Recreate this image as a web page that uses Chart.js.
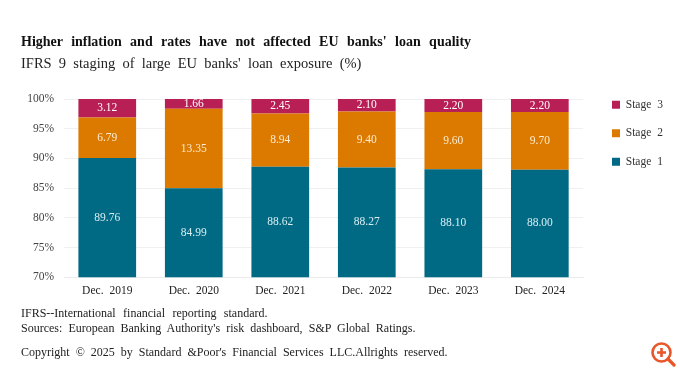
<!DOCTYPE html>
<html>
<head>
<meta charset="utf-8">
<script src="https://cdn.jsdelivr.net/npm/chart.js@4"></script>
<style>
  html, body { margin: 0; padding: 0; background: #fff; }
  #wrap { position: relative; width: 680px; height: 370px; overflow: hidden; font-family: "Liberation Serif", serif; color: #1a1a1a; }
  #wrap canvas { position: absolute; left: 0; top: 0; }
  .txt { position: absolute; white-space: pre; }
  #title { left: 21px; top: 34px; font-size: 14px; font-weight: bold; color: #111; word-spacing: 4.9px; }
  #subtitle { left: 21px; top: 55px; font-size: 14.5px; color: #222; word-spacing: 3.6px; }
  .foot { left: 21px; font-size: 12px; color: #222; }
  #zoomIcon { position: absolute; left: 650px; top: 341px; }
</style>
</head>
<body>
<div id="wrap">
  <canvas id="chart" width="680" height="370"></canvas>
  <div class="txt" id="title">Higher inflation and rates have not affected EU banks' loan quality</div>
  <div class="txt" id="subtitle">IFRS 9 staging of large EU banks' loan exposure (%)</div>
  <div class="txt foot" style="top:306px;word-spacing:4.4px">IFRS--International financial reporting standard.</div>
  <div class="txt foot" style="top:321px;word-spacing:3.1px">Sources: European Banking Authority's risk dashboard, S&amp;P Global Ratings.</div>
  <div class="txt foot" style="top:345px;word-spacing:3px">Copyright © 2025 by Standard &amp;Poor's Financial Services LLC.Allrights reserved.</div>
  <svg id="zoomIcon" width="26" height="26" viewBox="0 0 26 26">
    <circle cx="11.5" cy="11.5" r="9" fill="none" stroke="#e8562a" stroke-width="2.6"/>
    <path d="M7 11.5h9M11.5 7v9" stroke="#e8562a" stroke-width="2.6"/>
    <path d="M18 18l6 6" stroke="#e8562a" stroke-width="3.2" stroke-linecap="round"/>
  </svg>
</div>
<script>
const categories = ['Dec. 2019', 'Dec. 2020', 'Dec. 2021', 'Dec. 2022', 'Dec. 2023', 'Dec. 2024'];
const stage1 = [89.76, 84.99, 88.62, 88.27, 88.10, 88.00];
const stage2 = [6.79, 13.35, 8.94, 9.40, 9.60, 9.70];
const stage3 = [3.12, 1.66, 2.45, 2.10, 2.20, 2.20];
const yTicks = [70, 75, 80, 85, 90, 95, 100];

// the original is a 100% stacked chart: bars are shares of the total, labels show the raw value
const totals = categories.map((_, i) => stage1[i] + stage2[i] + stage3[i]);
const share = (arr) => arr.map((v, i) => v / totals[i] * 100);

const serif = '"Liberation Serif", serif';

const barLabels = {
  id: 'barLabels',
  afterDatasetsDraw(chart) {
    const { ctx, chartArea } = chart;
    ctx.save();
    ctx.textAlign = 'center';
    ctx.textBaseline = 'middle';
    ctx.font = '11.5px ' + serif;
    chart.data.datasets.forEach((ds, d) => {
      ctx.fillStyle = ds.labelColor;
      chart.getDatasetMeta(d).data.forEach((bar, i) => {
        const top = bar.y;
        const bottom = Math.min(bar.base, chartArea.bottom);
        ctx.fillText(ds.raw[i].toFixed(2), bar.x, (top + bottom) / 2);
      });
    });
    ctx.restore();
  }
};

// wide gaps between words, as in the reference, and the legend moved next to the plot
const tweaks = {
  id: 'tweaks',
  beforeDraw(chart) {
    chart.ctx.wordSpacing = '3px';
  },
  afterLayout(chart) {
    chart.legend.left = 595;
    chart.legend.right = 680;
    chart.legend.top = 82;
  }
};

new Chart(document.getElementById('chart'), {
  type: 'bar',
  data: {
    labels: categories,
    datasets: [
      { label: 'Stage 1', data: share(stage1), raw: stage1, backgroundColor: '#006a85', labelColor: '#d8eef2' },
      { label: 'Stage 2', data: share(stage2), raw: stage2, backgroundColor: '#dc7a00', labelColor: '#fdeccf' },
      { label: 'Stage 3', data: share(stage3), raw: stage3, backgroundColor: '#b81f55', labelColor: '#ffffff' }
    ]
  },
  options: {
    responsive: false,
    animation: false,
    layout: { padding: { left: 0, top: 99, right: 22, bottom: 65 } },
    datasets: { bar: { categoryPercentage: 0.667, barPercentage: 1 } },
    scales: {
      x: {
        stacked: true,
        grid: { display: false, drawTicks: false },
        border: { color: '#ececec' },
        ticks: { color: '#222', font: { family: serif, size: 11.5 }, padding: 7, maxRotation: 0 }
      },
      y: {
        stacked: true,
        min: 70,
        max: 100,
        afterBuildTicks: (scale) => { scale.ticks = yTicks.map((v) => ({ value: v })); },
        afterFit: (scale) => { scale.width = 64; },
        grid: { color: '#f0f0f0', drawTicks: false },
        border: { display: false },
        ticks: { color: '#444', font: { family: serif, size: 11.5 }, padding: 10, callback: (v) => v + '%' }
      }
    },
    plugins: {
      title: { display: false },
      tooltip: { enabled: false },
      legend: {
        position: 'right',
        align: 'start',
        reverse: true,
        labels: { boxWidth: 8, boxHeight: 8, padding: 17, color: '#333', font: { family: serif, size: 11.5 } }
      }
    }
  },
  plugins: [barLabels, tweaks]
});
</script>
</body>
</html>
